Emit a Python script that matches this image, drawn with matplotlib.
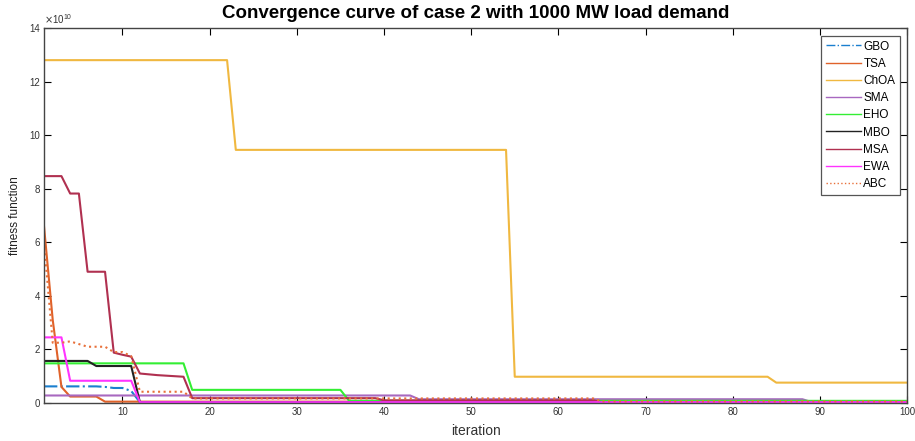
import numpy as np
import matplotlib
matplotlib.use("Agg")
import matplotlib.pyplot as plt
from matplotlib.ticker import ScalarFormatter

plt.rcParams['font.family'] = ['Liberation Sans', 'DejaVu Sans']

# Fitness values (x 1e10) per run of identical iterations: (values, run lengths)
iterations = np.arange(1, 101)
gbo_vals = [0.62, 0.60, 0.56, 0.45, 0.03]
gbo_runs = [7, 1, 2, 1, 89]
tsa_vals = [6.6, 3.1, 0.6, 0.24, 0.05]
tsa_runs = [1, 1, 1, 4, 93]
choa_vals = [12.8, 9.45, 0.98, 0.76]
choa_runs = [22, 32, 30, 16]
sma_vals = [0.28, 0.14, 0.04]
sma_runs = [43, 45, 12]
eho_vals = [1.48, 0.49, 0.08]
eho_runs = [17, 18, 65]
mbo_vals = [1.57, 1.38, 0.03]
mbo_runs = [6, 5, 89]
msa_vals = [8.47, 7.82, 4.9, 1.88, 1.8, 1.73, 1.1, 1.07, 1.04, 1.02, 1.0, 0.98, 0.18, 0.1, 0.03]
msa_runs = [3, 2, 3, 1, 1, 1, 1, 1, 1, 1, 1, 1, 22, 25, 36]
ewa_vals = [2.45, 0.83, 0.03]
ewa_runs = [3, 8, 89]
abc_vals = [6.0, 2.25, 2.3, 2.2, 2.1, 1.9, 1.75, 0.42, 0.17, 0.06]
abc_runs = [1, 2, 1, 1, 3, 2, 1, 6, 47, 36]

labels = ['GBO', 'TSA', 'ChOA', 'SMA', 'EHO', 'MBO', 'MSA', 'EWA', 'ABC']
series = [(gbo_vals, gbo_runs), (tsa_vals, tsa_runs), (choa_vals, choa_runs),
          (sma_vals, sma_runs), (eho_vals, eho_runs), (mbo_vals, mbo_runs),
          (msa_vals, msa_runs), (ewa_vals, ewa_runs), (abc_vals, abc_runs)]
colors = ['#1a7fcf', '#e0622a', '#f0b840', '#a868c0', '#33ee33', '#222222',
          '#b03050', '#ff33ff', '#e8703a']
styles = ['-.', '-', '-', '-', '-', '-', '-', '-', ':']


class FixedOrderFormatter(ScalarFormatter):
    def __init__(self, order):
        self._order = order
        super().__init__(useOffset=False, useMathText=True)

    def _set_order_of_magnitude(self):
        self.orderOfMagnitude = self._order

    def _set_format(self):
        self.format = '%1.0f'


fig = plt.figure(figsize=(9.15, 4.41), dpi=100)
ax = fig.add_axes([0.0481, 0.0862, 0.9432, 0.8503])

for lab, (v, r), c, ls in zip(labels, series, colors, styles):
    y = np.repeat(np.array(v) * 1e10, r)
    ax.plot(iterations, y, color=c, linestyle=ls, linewidth=1.5, label=lab)

ax.set_xlim(1, 100)
ax.set_ylim(0, 14e10)
ax.set_xticks(np.arange(10, 101, 10))
ax.set_yticks(np.arange(0, 14.1e10, 2e10))
ax.yaxis.set_major_formatter(FixedOrderFormatter(10))
ax.yaxis.get_offset_text().set_fontsize(7)
ax.yaxis.get_offset_text().set_color('#333333')

ax.tick_params(direction='in', top=True, right=True, length=5, width=0.8,
               labelsize=7, labelcolor='#333333', pad=3)
for s in ax.spines.values():
    s.set_color('#444444')
    s.set_linewidth(1.0)

ax.set_title('Convergence curve of case 2 with 1000 MW load demand',
             fontsize=13.5, fontweight='bold', pad=7)
ax.set_xlabel('iteration', fontsize=10, color='#333333', labelpad=5)
ax.set_ylabel('fitness function', fontsize=8.5, color='#222222', labelpad=6)

leg = ax.legend(loc='upper right', bbox_to_anchor=(0.992, 0.979), borderaxespad=0,
                fontsize=8.5, handlelength=3.0, labelspacing=0.44, fancybox=False,
                edgecolor='#555555', framealpha=1, handletextpad=0.2, borderpad=0.4)
leg.get_frame().set_linewidth(0.9)
for line in leg.get_lines():
    line.set_linewidth(1.0)

fig.savefig('out.png', dpi=100)
